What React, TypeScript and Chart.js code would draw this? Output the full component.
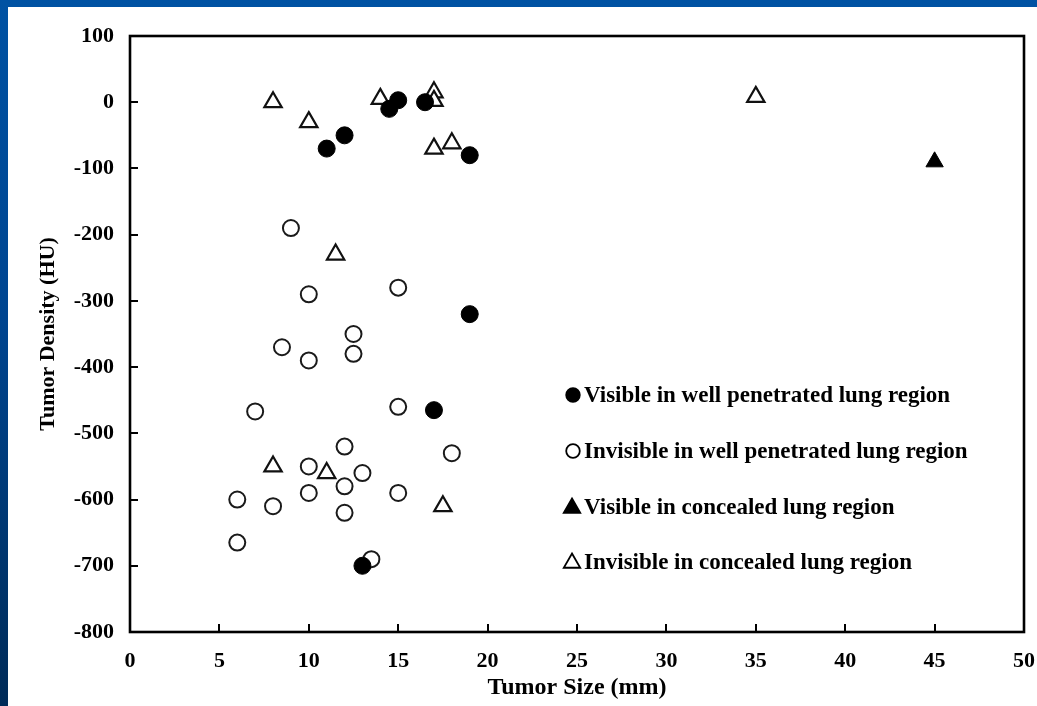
import { useEffect, useRef } from "react";
import { Chart, registerables } from "chart.js";

Chart.register(...registerables);

// ---------- Data ----------
const visibleWellX = [11, 12, 14.5, 15, 16.5, 19, 19, 17, 13];
const visibleWellY = [-70, -50, -10, 3, 0, -80, -320, -465, -700];

const invisibleWellX = [9, 10, 15, 12.5, 8.5, 10, 12.5, 7, 15, 12, 18, 10, 13, 12, 10, 15, 6, 8, 12, 6, 13.5];
const invisibleWellY = [-190, -290, -280, -350, -370, -390, -380, -467, -460, -520, -530, -550, -560, -580, -590, -590, -600, -610, -620, -665, -690];

const visibleConcealedX = [45];
const visibleConcealedY = [-90];

const invisibleConcealedX = [8, 10, 14, 17, 17, 17, 18, 11.5, 8, 11, 17.5, 35];
const invisibleConcealedY = [0, -30, 5, 15, 2, -70, -62, -230, -550, -560, -610, 8];

const seriesLabels = [
  "Visible in well penetrated lung region",
  "Invisible in well penetrated lung region",
  "Visible in concealed lung region",
  "Invisible in concealed lung region",
];

const xTitle = "Tumor Size (mm)";
const yTitle = "Tumor Density (HU)";

const FONT = "'Liberation Serif', 'Times New Roman', serif";

const zip = (xs: number[], ys: number[]) => xs.map((x, i) => ({ x, y: ys[i] }));

const framePlugin = {
  id: "frame",
  afterDatasetsDraw(chart: any) {
    const { ctx, chartArea } = chart;
    const xs = chart.scales.x;
    const ys = chart.scales.y;
    ctx.save();
    ctx.strokeStyle = "#000";
    ctx.lineWidth = 2;
    xs.ticks.forEach((_t: any, i: number) => {
      const px = Math.round(xs.getPixelForTick(i));
      if (px <= chartArea.left + 2 || px >= chartArea.right - 2) return;
      ctx.beginPath();
      ctx.moveTo(px, chartArea.bottom);
      ctx.lineTo(px, chartArea.bottom - 8);
      ctx.stroke();
    });
    ys.ticks.forEach((_t: any, i: number) => {
      const py = Math.round(ys.getPixelForTick(i));
      if (py <= chartArea.top + 2 || py >= chartArea.bottom - 2) return;
      ctx.beginPath();
      ctx.moveTo(chartArea.left, py);
      ctx.lineTo(chartArea.left + 8, py);
      ctx.stroke();
    });
    ctx.lineWidth = 2.6;
    ctx.strokeRect(chartArea.left, chartArea.top, chartArea.right - chartArea.left, chartArea.bottom - chartArea.top);
    ctx.restore();
  },
};

const legendPlugin = {
  id: "innerLegend",
  afterDraw(chart: any) {
    const { ctx } = chart;
    const markerX = 565;
    const textX = 576;
    const rows = [388, 444, 500, 555];
    ctx.save();
    ctx.font = `bold 23px ${FONT}`;
    ctx.textBaseline = "middle";
    ctx.textAlign = "left";
    chart.data.datasets.forEach((ds: any, i: number) => {
      const y = rows[i];
      ctx.fillStyle = ds.backgroundColor;
      ctx.strokeStyle = "#000";
      ctx.lineWidth = 1.8;
      ctx.beginPath();
      if (ds.pointStyle === "circle") {
        ctx.arc(markerX, y, 6.8, 0, Math.PI * 2);
      } else {
        const r = 9.5;
        ctx.moveTo(markerX - 1, y - r + 1);
        ctx.lineTo(markerX - 1 + r * 0.866, y + r * 0.5 + 1);
        ctx.lineTo(markerX - 1 - r * 0.866, y + r * 0.5 + 1);
        ctx.closePath();
      }
      ctx.fill();
      ctx.stroke();
      ctx.fillStyle = "#000";
      ctx.fillText(ds.label, textX, y + 1);
    });
    ctx.restore();
  },
};

export default function App() {
  const ref = useRef<HTMLCanvasElement | null>(null);

  useEffect(() => {
    if (!ref.current) return;
    const chart = new Chart(ref.current, {
      type: "scatter",
      data: {
        datasets: [
          {
            label: seriesLabels[0],
            data: zip(visibleWellX, visibleWellY),
            pointStyle: "circle",
            pointRadius: 8.5,
            backgroundColor: "#000",
            borderColor: "#000",
            borderWidth: 1,
            order: 0,
          },
          {
            label: seriesLabels[1],
            data: zip(invisibleWellX, invisibleWellY),
            pointStyle: "circle",
            pointRadius: 8,
            backgroundColor: "#fff",
            borderColor: "#1a1a1a",
            borderWidth: 2,
            order: 2,
          },
          {
            label: seriesLabels[2],
            data: zip(visibleConcealedX, visibleConcealedY),
            pointStyle: "triangle",
            pointRadius: 10,
            backgroundColor: "#000",
            borderColor: "#000",
            borderWidth: 1,
            order: 1,
          },
          {
            label: seriesLabels[3],
            data: zip(invisibleConcealedX, invisibleConcealedY),
            pointStyle: "triangle",
            pointRadius: 10,
            backgroundColor: "#fff",
            borderColor: "#111",
            borderWidth: 2.2,
            order: 3,
          },
        ] as any,
      },
      options: {
        animation: false,
        responsive: false,
        maintainAspectRatio: false,
        devicePixelRatio: 1,
        layout: { padding: { left: 27, top: 29, right: 13, bottom: 4 } },
        plugins: {
          legend: { display: false },
          tooltip: { enabled: false },
        },
        scales: {
          x: {
            type: "linear",
            min: 0,
            max: 50,
            ticks: {
              stepSize: 5,
              color: "#000",
              padding: 16,
              font: { family: FONT, size: 22, weight: "bold" },
            },
            grid: { display: false, drawTicks: false },
            border: { display: false },
            title: {
              display: true,
              text: xTitle,
              color: "#000",
              padding: 0,
              font: { family: FONT, size: 24, weight: "bold" },
            },
            afterFit(scale: any) {
              scale.height = 70;
              scale.paddingLeft = 0;
              scale.paddingRight = 0;
            },
          },
          y: {
            type: "linear",
            min: -800,
            max: 100,
            ticks: {
              stepSize: 100,
              color: "#000",
              padding: 16,
              font: { family: FONT, size: 22, weight: "bold" },
            },
            grid: { display: false, drawTicks: false },
            border: { display: false },
            title: {
              display: true,
              text: yTitle,
              color: "#000",
              padding: 0,
              font: { family: FONT, size: 22, weight: "bold" },
            },
            afterFit(scale: any) {
              scale.width = 95;
              scale.paddingTop = 0;
              scale.paddingBottom = 0;
            },
          },
        },
      } as any,
      plugins: [framePlugin, legendPlugin],
    });
    return () => chart.destroy();
  }, []);

  return (
    <div
      style={{
        position: "fixed",
        left: 0,
        top: 0,
        width: 1037,
        height: 706,
        background: "linear-gradient(180deg, #0052a3 0%, #004590 45%, #002b58 100%)",
        overflow: "hidden",
      }}
    >
      <div
        style={{
          position: "absolute",
          left: 8,
          top: 7,
          width: 1029,
          height: 699,
          background: "#fff",
        }}
      >
        <canvas ref={ref} width={1029} height={699} style={{ display: "block", width: 1029, height: 699 }} />
      </div>
    </div>
  );
}
